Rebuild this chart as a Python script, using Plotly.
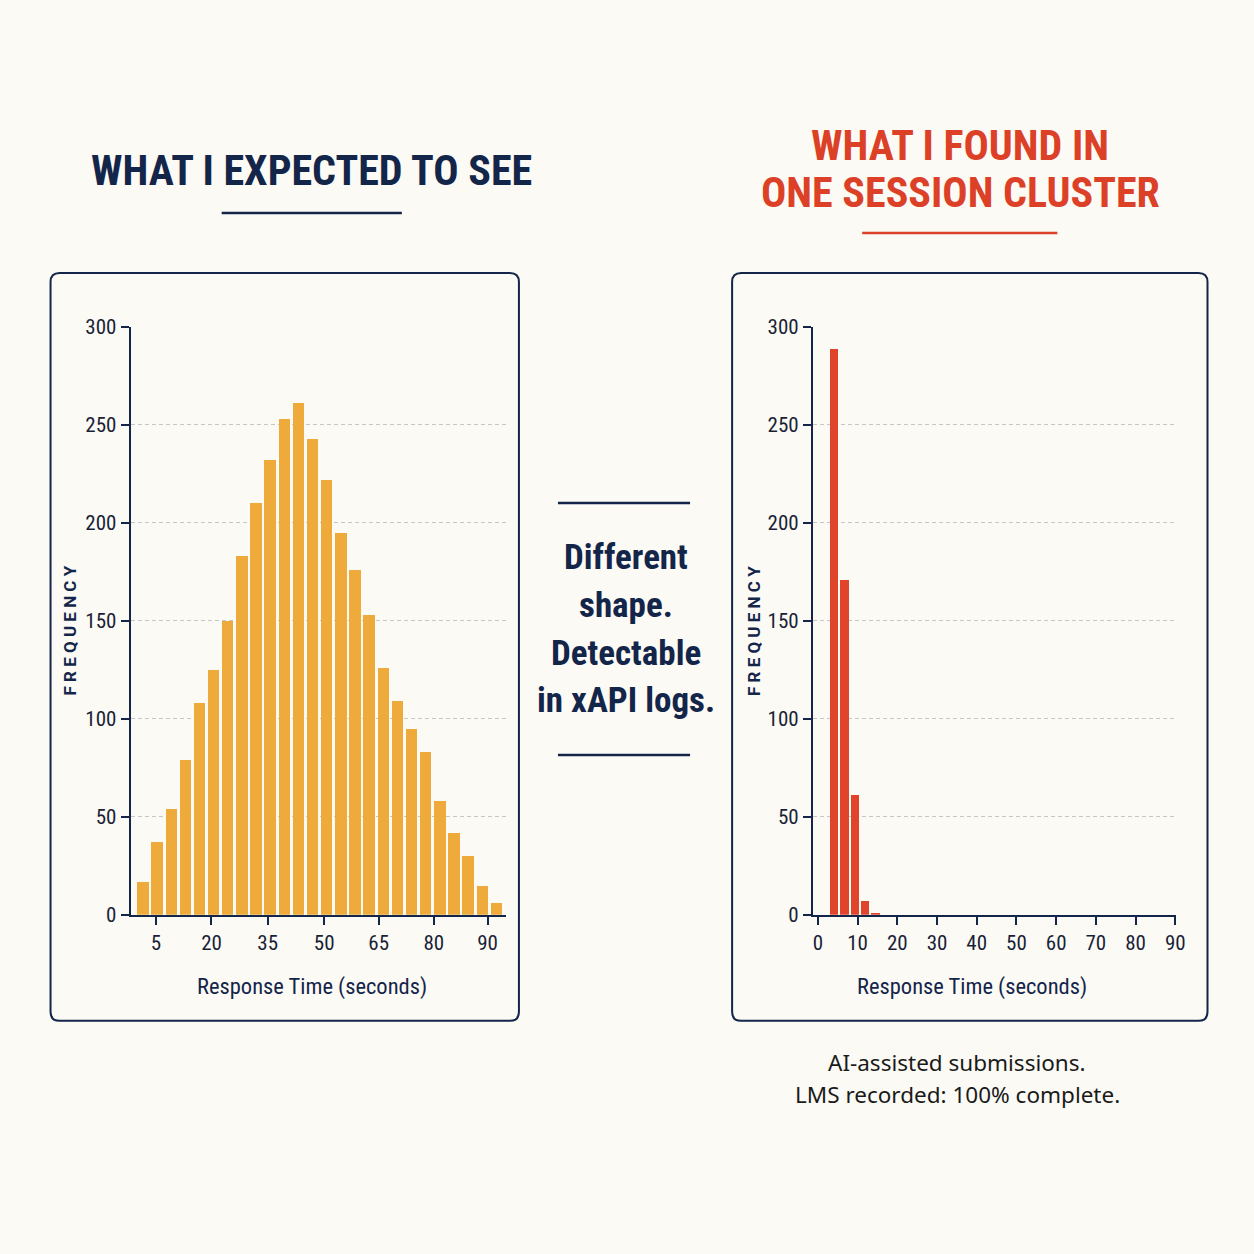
import plotly.graph_objects as go

W, H = 1254, 1254

# ---------------- data ----------------
expected_bins = list(range(26))
expected_counts = [17, 37, 54, 79, 108, 125, 150, 183, 210, 232, 253, 261, 243,
                   222, 195, 176, 153, 126, 109, 95, 83, 58, 42, 30, 15, 6]
expected_tick_pos = [0.96, 4.88, 8.85, 12.85, 16.7, 20.6, 24.4]
expected_tick_labels = ["5", "20", "35", "50", "65", "80", "90"]

found_centers = [4.0, 6.7, 9.3, 11.9, 14.5]
found_counts = [289, 171, 61, 7, 1]
found_ticks = [0, 10, 20, 30, 40, 50, 60, 70, 80, 90]

y_ticks = [0, 50, 100, 150, 200, 250, 300]

title_left = "WHAT I EXPECTED TO SEE"
title_right_lines = ["WHAT I FOUND IN", "ONE SESSION CLUSTER"]
middle_lines = ["Different", "shape.", "Detectable", "in xAPI logs."]
bottom_lines = ["AI-assisted submissions.", "LMS recorded: 100% complete."]
x_title = "Response Time (seconds)"
y_title = "F R E Q U E N C Y"

# ---------------- style ----------------
NAVY = "#14254a"
ORANGE = "#eeaa3a"
RED = "#e0442a"
RED_TXT = "#dc4128"
BG = "#fbfaf5"
GRID = "#c6c6c6"
COND = "'Roboto Condensed', 'Liberation Sans Narrow', 'DejaVu Sans Condensed', Roboto, sans-serif"

# layout calibration (target pixel -> figure pixel)
SX, OX = 0.992, 0.5
SY, OY = 0.981, 11.0


def px(x):
    return ((x - OX) / SX) / W


def py(y):
    return 1 - ((y - OY) / SY) / H


fig = go.Figure()

fig.add_trace(go.Bar(x=expected_bins, y=expected_counts, width=0.8,
                     marker=dict(color=ORANGE, line=dict(width=0)),
                     xaxis="x", yaxis="y", showlegend=False))
fig.add_trace(go.Bar(x=found_centers, y=found_counts, width=2.1,
                     marker=dict(color=RED, line=dict(width=0)),
                     xaxis="x2", yaxis="y2", showlegend=False))

axis_common = dict(showline=True, linecolor=NAVY, linewidth=2, ticks="outside",
                   ticklen=8, tickwidth=2, tickcolor=NAVY, zeroline=False,
                   tickfont=dict(family=COND, size=21, color="#1a1f36"))

grid_common = dict(showgrid=True, gridcolor=GRID, griddash="4px,3px", gridwidth=1)

fig.update_layout(
    width=W, height=H,
    margin=dict(l=0, r=0, t=0, b=0),
    paper_bgcolor=BG, plot_bgcolor=BG,
    bargap=0,
    xaxis=dict(domain=[px(131), px(506)], range=[-0.84, 25.7],
               tickvals=expected_tick_pos, ticktext=expected_tick_labels,
               showgrid=False, anchor="y", **axis_common),
    yaxis=dict(domain=[py(914), py(326)], range=[0, 300], tickvals=y_ticks,
               anchor="x", **grid_common, **axis_common),
    xaxis2=dict(domain=[px(812.7), px(1176)], range=[-1.26, 90.3],
                tickvals=found_ticks, showgrid=False, anchor="y2", **axis_common),
    yaxis2=dict(domain=[py(914), py(326)], range=[0, 300], tickvals=y_ticks,
                anchor="x2", **grid_common, **axis_common),
)


def rrect(x0, y0, x1, y1, r):
    p = [
        f"M {px(x0 + r)},{py(y0)}",
        f"L {px(x1 - r)},{py(y0)}",
        f"Q {px(x1)},{py(y0)} {px(x1)},{py(y0 + r)}",
        f"L {px(x1)},{py(y1 - r)}",
        f"Q {px(x1)},{py(y1)} {px(x1 - r)},{py(y1)}",
        f"L {px(x0 + r)},{py(y1)}",
        f"Q {px(x0)},{py(y1)} {px(x0)},{py(y1 - r)}",
        f"L {px(x0)},{py(y0 + r)}",
        f"Q {px(x0)},{py(y0)} {px(x0 + r)},{py(y0)}",
        "Z",
    ]
    return " ".join(p)


def hline(x0, x1, y, color, width=2.5):
    return dict(type="line", xref="paper", yref="paper", x0=px(x0), x1=px(x1),
                y0=py(y), y1=py(y), line=dict(color=color, width=width))


shapes = [
    dict(type="path", xref="paper", yref="paper", path=rrect(51, 272, 519, 1020, 9),
         line=dict(color=NAVY, width=2), fillcolor="rgba(0,0,0,0)", layer="below"),
    dict(type="path", xref="paper", yref="paper", path=rrect(732, 272, 1207, 1020, 9),
         line=dict(color=NAVY, width=2), fillcolor="rgba(0,0,0,0)", layer="below"),
    hline(222, 402, 212, NAVY),
    hline(862, 1057, 232, RED_TXT),
    hline(558, 690, 502, NAVY),
    hline(558, 690, 754, NAVY),
]


def ann(text, x, y, size, color, family=COND, **kw):
    return dict(text=text, x=px(x), y=py(y), xref="paper", yref="paper", showarrow=False,
                font=dict(family=family, size=size, color=color),
                xanchor="center", yanchor="middle", **kw)


annotations = [ann(f"<b>{title_left}</b>", 312, 170, 42, NAVY)]
for line, yy in zip(title_right_lines, [145, 192]):
    annotations.append(ann(f"<b>{line}</b>", 960, yy, 42, RED_TXT))
for line, yy in zip(middle_lines, [557, 605, 653, 700]):
    annotations.append(ann(f"<b>{line}</b>", 626, yy, 35, NAVY))
for line, yy in zip(bottom_lines, [1062, 1094]):
    annotations.append(ann(line, 957, yy, 22.5, "#1a1a1a", family="'Noto Sans', 'Open Sans', sans-serif"))
annotations += [
    ann(x_title, 312, 986, 22.5, NAVY),
    ann(x_title, 972, 986, 22.5, NAVY),
    ann(f"<b>{y_title}</b>", 70, 630, 17, NAVY, family="Roboto, sans-serif", textangle=-90),
    ann(f"<b>{y_title}</b>", 754, 630, 17, NAVY, family="Roboto, sans-serif", textangle=-90),
]

fig.update_layout(shapes=shapes, annotations=annotations)
fig.write_html("out.html")
